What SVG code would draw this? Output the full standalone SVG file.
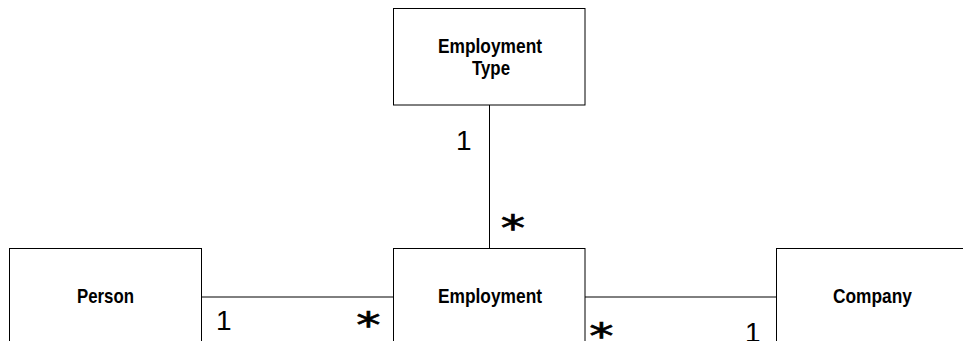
<svg xmlns="http://www.w3.org/2000/svg" width="963" height="341" viewBox="0 0 963 341">
  <style>
    .box { fill: #fff; stroke: #000; stroke-width: 1; }
    .link { stroke: #000; stroke-width: 1; fill: none; }
    .name { font-family: "Liberation Sans", Arial, sans-serif; font-weight: bold; font-size: 20.5px; fill: #000; text-anchor: middle; }
    .mult { font-family: "Liberation Sans", Arial, sans-serif; font-size: 28px; fill: #000; }
    .star { font-family: "DejaVu Sans", sans-serif; font-size: 36px; fill: #000; stroke: #000; stroke-width: 0.7; text-anchor: middle; }
  </style>
  <rect width="963" height="341" fill="#fff"/>
  <g id="connectors">
    <line class="link" x1="489.5" y1="105" x2="489.5" y2="248.5"/>
    <line class="link" x1="201.5" y1="297" x2="393.5" y2="297"/>
    <line class="link" x1="585" y1="297" x2="776.5" y2="297"/>
  </g>
  <g id="employment-type">
    <rect class="box" x="393.5" y="8.5" width="191.5" height="96.5"/>
    <text class="name" x="490" y="53" textLength="104" lengthAdjust="spacingAndGlyphs">Employment</text>
    <text class="name" x="491" y="75" textLength="38" lengthAdjust="spacingAndGlyphs">Type</text>
  </g>
  <g id="person">
    <rect class="box" x="9.5" y="248.5" width="192" height="120"/>
    <text class="name" x="105.5" y="303" textLength="57" lengthAdjust="spacingAndGlyphs">Person</text>
  </g>
  <g id="employment">
    <rect class="box" x="393.5" y="248.5" width="191.5" height="120"/>
    <text class="name" x="490" y="303" textLength="104" lengthAdjust="spacingAndGlyphs">Employment</text>
  </g>
  <g id="company">
    <rect class="box" x="776.5" y="248.5" width="200" height="120"/>
    <text class="name" x="872.5" y="303" textLength="79" lengthAdjust="spacingAndGlyphs">Company</text>
  </g>
  <g id="multiplicities">
    <text class="mult" x="456" y="150">1</text>
    <text class="mult" x="216" y="330">1</text>
    <text class="mult" x="745" y="342">1</text>
    <text class="star" transform="translate(513 221.5) scale(1.35 1)" y="18.5">*</text>
    <text class="star" transform="translate(368.5 318) scale(1.35 1)" y="18.5">*</text>
    <text class="star" transform="translate(601.5 329) scale(1.35 1)" y="18.5">*</text>
  </g>
</svg>
